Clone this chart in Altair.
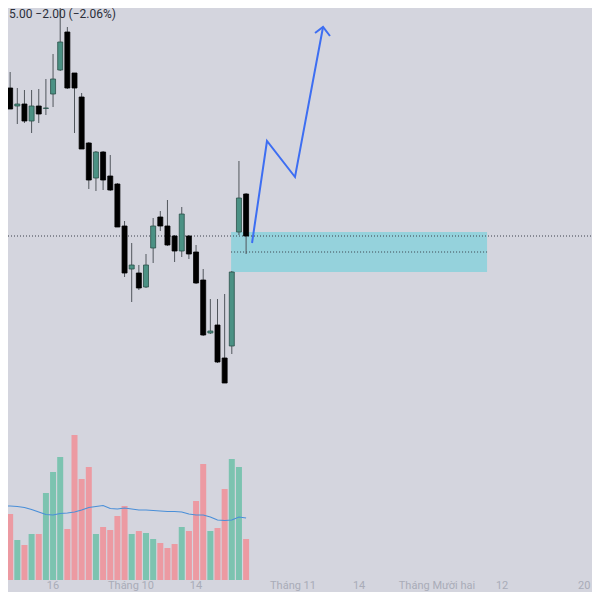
import altair as alt
import pandas as pd

# ---- candle data (session index, price) ----
opens  = [104.4, 102.35, 101.45, 101.55, 100.7, 101.45, 101.33, 102.05, 103.25, 105.15,
          103.1, 101.9, 99.6, 97.85, 99.15, 97.95, 97.55, 95.45, 93.3, 93.1,
          92.4, 94.35, 95.9, 95.45, 94.95, 94.2, 94.95, 94.15, 92.75, 90.1,
          90.5, 88.85, 89.45, 95.15, 97.05]
highs  = [104.65, 103.15, 102.35, 102.25, 102.25, 102.3, 102.8, 104.05, 107.0, 105.4,
          103.1, 102.1, 99.65, 99.2, 99.2, 99.0, 97.6, 95.7, 94.6, 93.5,
          94.05, 95.85, 96.2, 96.75, 95.0, 96.4, 95.0, 94.5, 93.3, 91.8,
          91.8, 92.05, 93.2, 98.7, 97.1]
lows   = [102.7, 101.3, 100.55, 100.6, 100.1, 100.6, 101.0, 101.4, 103.2, 102.3,
          100.1, 99.3, 97.3, 97.2, 97.25, 97.2, 95.4, 92.9, 91.65, 92.25,
          92.35, 93.6, 95.2, 94.45, 93.65, 93.9, 93.8, 92.55, 89.95, 90.05,
          88.6, 87.6, 89.05, 95.0, 94.05]
closes = [102.7, 101.3, 101.55, 100.7, 101.45, 101.05, 101.35, 102.8, 104.65, 102.35,
          102.35, 99.3, 97.75, 99.15, 97.75, 97.25, 95.4, 93.1, 93.5, 92.35,
          93.5, 95.45, 95.45, 94.5, 94.2, 96.05, 94.05, 92.6, 90.0, 90.2,
          88.65, 87.6, 93.15, 96.85, 94.95]
volumes = [55, 66, 40, 35, 46, 46, 87, 108, 123, 51,
           145, 101, 113, 46, 53, 50, 64, 74, 46, 49,
           47, 41, 37, 32, 36, 53, 49, 79, 116, 49,
           52, 91, 121, 113, 41]
vol_ma = [74, 74, 73.5, 72.5, 70.5, 68, 65.5, 65, 66.5, 67,
          68, 70, 72.5, 73.5, 74.5, 71.5, 71, 72, 71, 70,
          70, 69.5, 69, 68.5, 68.5, 68, 66, 65, 65, 63,
          60, 59.5, 60, 63, 62]

# annotation: demand zone and projected path
zone_x = [31.9, 67.7]
zone_price = [95.15, 93.15]
zone_mid = 94.15
last_price = 94.95
path_i = [34.83, 36.92, 40.84, 44.76]
path_p = [94.6, 99.7, 97.9, 105.4]
head_i = [43.64, 44.76, 45.73]
head_p = [105.1, 105.4, 104.95]

tick_pos = [7.0, 17.9, 27.0, 40.56, 49.8, 60.7, 69.8, 81.3]
tick_txt = ["16", "Tháng 10", "14", "Tháng 11", "14", "Tháng Mười hai", "12", "20"]

n = len(opens)
df = pd.DataFrame({"i": list(range(n)), "open": opens, "high": highs, "low": lows,
                   "close": closes, "vol": volumes, "ma": vol_ma})
df["dir"] = ["up" if c >= o else "down" for o, c in zip(opens, closes)]

W = 584
def xs():
    return alt.Scale(domain=[0.699, 0.699 + W / 7.15], range=[0, W], nice=False, zero=False, padding=0)

X = alt.X("i:Q", scale=xs(), axis=None)
pscale = alt.Scale(domain=[77.75, 106.35], range=[572, 0], nice=False, zero=False)
vscale = alt.Scale(domain=[0, 572], range=[572, 0], nice=False, zero=False)

base = alt.Chart(df)

vol_bars = base.mark_bar(size=6, clip=True).encode(
    x=X,
    y=alt.Y("vol:Q", scale=vscale, axis=None),
    color=alt.Color("dir:N", scale=alt.Scale(domain=["up", "down"], range=["#7cc3b0", "#ec9aa2"]), legend=None),
)
vol_line = base.mark_line(color="#4a8fd8", strokeWidth=1.2, clip=True).encode(
    x=X, y=alt.Y("ma:Q", scale=vscale, axis=None)
)

zone_df = pd.DataFrame({"x0": [zone_x[0]], "x1": [zone_x[1]], "p0": [zone_price[0]], "p1": [zone_price[1]], "m": [zone_mid]})
zone = alt.Chart(zone_df).mark_rect(color="#95d2dc", clip=True).encode(
    x=alt.X("x0:Q", scale=xs(), axis=None),
    x2="x1:Q",
    y=alt.Y("p0:Q", scale=pscale, axis=None), y2="p1:Q",
)
zone_mid_line = alt.Chart(zone_df).mark_rule(color="#3a3f4a", strokeDash=[1, 2], strokeWidth=1, clip=True).encode(
    x=alt.X("x0:Q", scale=xs(), axis=None),
    x2="x1:Q",
    y=alt.Y("m:Q", scale=pscale, axis=None),
)
last_df = pd.DataFrame({"p": [last_price]})
last_line = alt.Chart(last_df).mark_rule(color="#3a3f4a", strokeDash=[1, 2], strokeWidth=1, clip=True).encode(
    x=alt.value(0), x2=alt.value(W), y=alt.Y("p:Q", scale=pscale, axis=None)
)

wicks = base.mark_rule(color="#50565c", strokeWidth=1, clip=True).encode(
    x=X, y=alt.Y("low:Q", scale=pscale, axis=None), y2="high:Q"
)
bodies = base.mark_bar(size=5, strokeWidth=0.8, clip=True).encode(
    x=X, y=alt.Y("open:Q", scale=pscale, axis=None), y2="close:Q",
    color=alt.Color("dir:N", scale=alt.Scale(domain=["up", "down"], range=["#4b9184", "#000000"]), legend=None),
    stroke=alt.Stroke("dir:N", scale=alt.Scale(domain=["up", "down"], range=["#2b504a", "#000000"]), legend=None),
)

path_df = pd.DataFrame({"i": path_i, "p": path_p, "k": list(range(len(path_i)))})
path = alt.Chart(path_df).mark_line(color="#3d6ef2", strokeWidth=2, clip=True).encode(
    x=X, y=alt.Y("p:Q", scale=pscale, axis=None), order="k:Q"
)
head_df = pd.DataFrame({"i": head_i, "p": head_p, "k": list(range(len(head_i)))})
head = alt.Chart(head_df).mark_line(color="#3d6ef2", strokeWidth=2, clip=True).encode(
    x=X, y=alt.Y("p:Q", scale=pscale, axis=None), order="k:Q"
)

tick_df = pd.DataFrame({"i": tick_pos, "t": tick_txt})
ticks = alt.Chart(tick_df).mark_text(color="#a9acb8", fontSize=11, font="Roboto", baseline="middle").encode(
    x=X, y=alt.value(578), text="t:N"
)

title_df = pd.DataFrame({"t": ["5.00  −2.00 (−2.06%)"]})
title = alt.Chart(title_df).mark_text(color="#2a2e39", fontSize=12, font="Roboto", align="left", baseline="top").encode(
    x=alt.value(1), y=alt.value(1), text="t:N"
)

chart = alt.layer(
    vol_bars, vol_line, zone, zone_mid_line, last_line, wicks, bodies, path, head, ticks, title
).resolve_scale(y="independent", color="independent").properties(
    width=W, height=584, padding=0, autosize=alt.AutoSizeParams(type="none"), background="#d4d5de"
).configure_view(stroke=None)

chart.save("out.html", embed_options={"renderer": "svg", "actions": False})
